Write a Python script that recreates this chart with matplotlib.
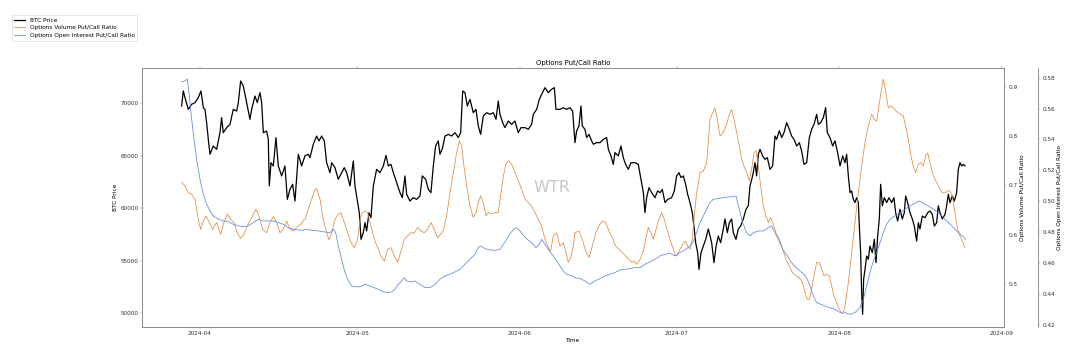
import matplotlib
matplotlib.use("Agg")
import matplotlib.pyplot as plt
import numpy as np
import pandas as pd

# x values are days after 2024-04-01
start = pd.Timestamp("2024-04-01")

btc_day = [-3.50, -3.18, -2.86, -2.23, -1.59, -0.95, -0.32, 0.19, 0.64, 0.95, 1.27, 1.59, 1.91, 2.54, 3.18, 3.82,
           4.13, 4.45, 5.09, 5.73, 6.36, 7.00, 7.32, 7.76, 8.27, 8.91, 9.54, 9.86, 10.50, 10.94, 11.45, 11.77, 12.09,
           12.72, 13.04, 13.23, 13.55, 14.00, 14.50, 14.95, 15.59, 16.22, 16.67, 17.18, 17.69, 18.13, 18.77, 19.40,
           20.04, 20.67, 20.99, 21.63, 22.26, 22.71, 23.22, 23.73, 24.17, 24.81, 25.13, 25.76, 26.40, 27.04, 27.54,
           27.99, 28.63, 29.26, 29.58, 30.09, 30.41, 30.73, 31.17, 31.49, 31.81, 32.25, 32.63, 33.08, 33.71, 34.35,
           34.99, 35.50, 35.94, 36.45, 36.90, 37.53, 38.17, 38.61, 39.12, 39.44, 40.08, 40.71, 41.35, 41.98, 42.43,
           43.07, 43.58, 44.08, 44.53, 44.97, 45.48,
           45.80, 46.31, 46.76, 47.39, 48.03, 48.66, 49.30, 49.75, 50.13, 50.57, 51.02, 51.53, 52.16, 52.67, 53.12,
           53.56, 54.07, 54.71, 55.34, 55.98, 56.49, 56.93, 57.25, 57.76, 58.21, 58.84, 59.48, 60.11, 60.75, 61.26,
           62.02, 62.66, 63.29, 63.61, 64.25, 64.76, 65.20, 65.84, 66.48, 67.11, 67.62, 67.94, 68.70, 69.34, 69.97,
           70.61, 71.12,
           71.56, 71.88, 72.33, 72.71, 72.96, 73.47, 73.79, 74.24, 74.75, 75.06, 75.70, 76.34, 76.97, 77.61, 77.93,
           78.44, 78.88, 79.20, 79.83, 80.34, 80.79, 81.23, 81.74, 82.25, 83.02, 83.65, 84.16, 84.61, 84.92, 85.24,
           85.69, 86.20, 86.83, 87.34, 87.79, 88.23, 88.74, 89.25, 90.01, 90.52, 90.97, 91.41, 91.79, 92.24, 92.68,
           93.07, 93.51, 93.96, 94.34, 94.59, 94.98, 95.23, 95.61, 96.06, 96.51, 97.01,
           97.33, 97.65, 98.09, 98.47, 98.92, 99.36, 99.87, 100.19, 100.64, 101.02, 101.46, 101.78, 102.29, 102.74,
           103.18, 103.69, 104.20, 104.64, 104.96, 105.47, 105.92, 106.23, 106.55, 106.87, 107.38, 107.82, 108.27,
           108.78, 109.29, 109.73, 110.05, 110.56, 111.01, 111.45, 111.96, 112.47, 112.91, 113.36, 113.87, 114.38,
           114.82, 115.27, 115.78, 116.29, 116.73, 117.18, 117.69, 118.00, 118.45, 118.96, 119.40, 119.72, 120.23,
           120.74, 121.18, 121.69, 122.14, 122.65,
           123.09, 123.41, 123.73, 124.05, 124.36, 124.68, 125.00, 125.32, 125.64, 125.83, 126.08, 126.27, 126.46,
           126.65, 126.91, 127.23, 127.54, 127.86, 128.31, 128.69, 129.01, 129.33, 129.64, 129.90, 130.22, 130.60,
           131.04, 131.49, 132.00, 132.44, 132.76, 133.14, 133.59, 134.03, 134.41, 134.67, 135.05, 135.50, 135.94,
           136.32, 136.77, 137.09, 137.40, 137.85, 138.36, 138.87, 139.31, 139.76, 140.14, 140.59, 140.90, 141.22,
           141.67, 142.18, 142.49, 142.81, 143.13, 143.58, 143.96, 144.40, 144.72, 145.04, 145.36, 145.67, 145.99]
btc_price = [69740, 71170, 70540, 69420, 69900, 70060, 70540, 71170, 69580, 69420, 68150, 66570, 65140, 65930, 65610,
             67200, 68630, 67200, 67680, 67990, 69420, 69260, 70060, 72120, 71650, 70060, 68470, 69420, 70690, 70060,
             71010, 70060, 67200, 67360, 66570, 62120, 64340, 64030, 66730, 64030, 63080, 64030, 60850, 61800, 62280,
             60690, 65140, 64030,
             65000, 65140, 64820, 66100, 66880, 66410, 66880, 66410, 64340, 63390, 64340, 63870, 62760, 63390, 63870,
             63390, 62120, 64500, 62120, 60540, 59570, 57040, 57680, 58630, 57840, 59570, 59100, 62120, 63710, 63390,
             64030, 65040, 64030, 64180, 63390, 62440, 61490, 61010, 63080, 61330, 60690, 61010, 60850, 61170, 63080,
             62760, 61800, 61490, 64030, 65930, 66410,
             65140, 65770, 66880, 67040, 66880, 67200, 66730, 67200, 71170, 71010, 69740, 70370, 69100, 69420, 67840,
             67040, 68790, 69100, 68950, 69100, 68470, 70220, 68950, 68150, 67680, 68310, 67990, 68310, 67200, 67680,
             67680, 67520, 67990, 68950, 69420, 70370, 70850, 71490, 71010, 71330, 71490, 69420, 69420, 69580, 69420,
             69580, 69260,
             66250, 67360, 67840, 69740, 67840, 67520, 66730, 67040, 66410, 66100, 66250, 66250, 66570, 66730, 65610,
             64980, 64180, 65300, 64980, 65930, 64820, 64180, 63710, 64340, 64340, 64180, 62760, 61490, 59580, 61010,
             61960, 61490, 61010, 61650, 61490, 61800, 60540, 60850, 61010, 61650, 63080, 63390, 62920, 63080, 62280,
             61330, 60540, 59580, 57960, 56720, 55770, 54180, 55770, 56400, 57040, 58030,
             57360, 56720, 54820, 56310, 57360, 56720, 58030, 58980, 57680, 58630, 58980, 57680, 57040, 58030, 58310,
             58980, 59900, 60240, 62120, 63080, 64340, 63080, 65140, 65610, 64980, 64660, 64820, 63710, 64030, 66880,
             66570, 67390, 66730, 67200, 68150, 67520, 66880, 66570, 65930, 66250, 65460, 64180, 64340, 66730, 67520,
             67990, 68950, 67990, 68150, 68630, 69580, 67200, 66730, 65930, 66410, 65300, 64030, 64980,
             64340, 65140, 63080, 61490, 61650, 60850, 60540, 61010, 60540, 58310, 55770, 51970, 49900, 53230, 54180,
             55450, 55140, 56400, 55770, 57040, 54820, 57360, 58980, 62280, 60240, 61010, 60540, 61010, 60540, 61010,
             59580, 58790, 59900, 58980, 59580, 61170, 60540, 59580, 58980, 58310, 56880, 58630, 58030, 59260, 59100,
             59580, 59740, 59420, 58310, 58630, 60240, 59580, 58980, 59420, 60240, 61330, 60540, 61170, 60690, 61490,
             63710, 64340, 64030, 64180, 64030]

vol_day = [-3.50, -2.86, -2.23, -1.59, -0.95, -0.32, 0.13, 0.64, 1.15, 1.78, 2.42, 3.18, 3.94, 4.58, 5.22, 5.85, 6.49,
           7.12, 7.76, 8.40, 9.03, 9.86, 10.69, 11.32, 11.96, 12.72, 13.36, 14.00, 14.63, 15.27, 15.90, 16.54, 17.18,
           17.81, 18.45, 19.21, 19.85,
           20.04, 20.67, 21.31, 21.82, 22.26, 22.90, 23.54, 24.17, 24.62, 25.13, 25.76, 26.40, 26.91, 27.54, 28.18,
           28.82, 29.45, 30.09, 30.53, 30.98, 31.49, 31.98, 32.63, 33.27, 33.91, 34.54, 35.18, 35.81, 36.45, 37.09,
           37.72, 38.36, 38.99, 39.63, 40.27, 40.90, 41.54, 42.17, 42.81, 43.45, 44.08, 44.72, 45.35,
           46.44, 47.07, 47.71, 48.35, 48.98, 49.49, 49.94, 50.38, 50.89, 51.53, 52.16, 52.67, 53.12, 53.56, 54.07,
           54.58, 55.03, 55.66, 56.30, 56.93, 57.38, 57.89, 58.40, 58.84, 59.48, 60.11, 60.75, 61.39, 62.02, 62.66,
           63.30, 63.93, 64.57, 65.20, 65.84, 66.48, 66.92, 67.43, 68.07, 68.70, 69.34, 69.85, 70.29, 70.74, 71.25,
           71.57, 72.33, 72.96, 73.60, 74.24, 74.87, 75.51, 76.15, 76.78, 77.42, 78.05, 78.69, 79.33, 79.96, 80.60,
           81.23, 81.87, 82.38, 82.89, 83.33, 83.97, 84.61, 85.05, 85.56, 86.07, 86.51, 86.96, 87.47, 88.10, 88.61,
           89.12, 89.69, 90.33, 90.77, 91.28, 91.79, 92.30, 92.68, 93.07, 93.51, 93.96, 94.34, 94.78, 95.42, 96.06,
           96.69, 97.01,
           97.33, 97.84, 98.28, 98.73, 99.24, 99.87, 100.51, 101.02, 101.46, 101.91, 102.42, 102.93, 103.37, 103.82,
           104.33, 104.83, 105.28, 105.72, 106.11, 106.55, 107.00, 107.51, 108.01, 108.46, 108.91, 109.41, 109.92,
           110.56, 111.20, 111.83, 112.47, 113.10, 113.74, 114.38, 115.01, 115.46, 115.90, 116.28, 116.73, 117.17,
           117.68, 118.19, 118.64, 119.08, 119.59, 120.10, 120.55, 120.99, 121.50, 122.01, 122.45, 122.90,
           123.09, 123.73, 124.36, 125.00, 125.64, 126.27, 126.91, 127.54, 128.18, 128.69, 129.14, 129.58, 129.96,
           130.41, 130.85, 131.36, 131.87, 132.32, 132.76, 133.27, 133.78, 134.22, 134.67, 135.18, 135.69, 136.13,
           136.58, 137.09, 137.60, 138.04, 138.49, 138.87, 139.31, 139.76, 140.27, 140.78, 141.22, 141.67, 142.17,
           142.68, 143.13, 143.57, 144.08, 144.59, 145.04, 145.48, 145.99]
vol_ratio = [0.706, 0.699, 0.685, 0.682, 0.672, 0.631, 0.611, 0.628, 0.638, 0.625, 0.611, 0.625, 0.601, 0.625, 0.642,
             0.631, 0.625, 0.604, 0.593, 0.601, 0.618, 0.635, 0.652, 0.635, 0.611, 0.604, 0.625, 0.637, 0.625, 0.604,
             0.611, 0.628, 0.611, 0.608, 0.615, 0.621, 0.631,
             0.631, 0.652, 0.672, 0.689, 0.694, 0.672, 0.631, 0.604, 0.590, 0.604, 0.631, 0.642, 0.645, 0.625, 0.604,
             0.584, 0.574, 0.591, 0.631, 0.645, 0.648, 0.645, 0.618, 0.591, 0.574, 0.557, 0.547, 0.571, 0.574, 0.557,
             0.544, 0.567, 0.591, 0.598, 0.604, 0.604, 0.615, 0.608, 0.604, 0.611, 0.625, 0.611, 0.594,
             0.608, 0.638, 0.685, 0.726, 0.766, 0.790, 0.780, 0.739, 0.699, 0.658, 0.635, 0.645, 0.665, 0.679, 0.665,
             0.638, 0.645, 0.642, 0.645, 0.645, 0.679, 0.719, 0.743, 0.750, 0.743, 0.726, 0.709, 0.692, 0.672, 0.665,
             0.658, 0.645, 0.631, 0.618, 0.591, 0.574, 0.567, 0.598, 0.604, 0.577, 0.584, 0.564, 0.544, 0.554, 0.577,
             0.604, 0.608, 0.591, 0.567, 0.554, 0.577, 0.604, 0.618, 0.628, 0.625, 0.608, 0.594, 0.577, 0.571, 0.564,
             0.557, 0.550, 0.544, 0.547, 0.540, 0.550, 0.567, 0.591, 0.615, 0.604, 0.591, 0.608, 0.628, 0.645, 0.631,
             0.611, 0.591, 0.571, 0.557, 0.564, 0.574, 0.584, 0.587, 0.577, 0.571, 0.591, 0.638, 0.685, 0.726, 0.729,
             0.746, 0.787,
             0.834, 0.847, 0.857, 0.834, 0.800, 0.807, 0.824, 0.844, 0.854, 0.834, 0.807, 0.780, 0.753, 0.739, 0.726,
             0.709, 0.733, 0.766, 0.770, 0.739, 0.699, 0.658, 0.638, 0.625, 0.635, 0.621, 0.604, 0.591, 0.571, 0.550,
             0.537, 0.523, 0.517, 0.513, 0.503, 0.483, 0.469, 0.469, 0.490, 0.517, 0.544, 0.544, 0.530, 0.517, 0.520,
             0.517, 0.496, 0.476, 0.463, 0.449, 0.442, 0.446,
             0.456, 0.503, 0.564, 0.625, 0.685, 0.739, 0.787, 0.820, 0.844, 0.834, 0.830, 0.861, 0.888, 0.915, 0.891,
             0.857, 0.861, 0.857, 0.851, 0.847, 0.844, 0.841, 0.820, 0.793, 0.760, 0.739, 0.726, 0.743, 0.746, 0.739,
             0.760, 0.766, 0.746, 0.726, 0.712, 0.702, 0.692, 0.685, 0.685, 0.689, 0.689, 0.679, 0.645, 0.611, 0.598,
             0.587, 0.574]

oi_day = [-3.50, -2.86, -2.42, -2.03, -1.59, -1.14, -0.64, 0.00, 0.64, 1.27, 1.91, 2.54, 3.50, 4.45, 5.41, 6.36, 7.32,
          8.27, 9.22, 10.18, 11.13, 12.09, 13.04, 14.00, 14.95, 15.90, 16.86, 17.81, 18.77, 19.72,
          20.04, 21.31, 22.58, 23.85, 24.81, 25.45, 25.89, 26.40, 27.04, 27.67, 28.31, 28.94, 29.58, 30.22, 30.85,
          31.49, 32.12, 32.76, 33.72, 34.67, 35.62, 36.58, 37.21, 37.85, 38.49, 38.99, 39.44, 40.27, 41.03, 41.98,
          42.94, 43.89, 44.85, 45.48,
          45.80, 46.76, 47.71, 48.66, 49.62, 50.57, 51.53, 52.48, 53.12, 53.56, 54.39, 55.34, 56.30, 57.25, 57.89,
          58.52, 59.29, 59.92, 60.43, 61.07, 61.71, 62.47, 63.30, 64.12, 64.76, 65.20, 65.84, 66.67, 67.43, 68.07,
          68.70, 69.34, 69.97, 70.93,
          71.57, 72.52, 73.47, 74.43, 75.38, 76.34, 77.29, 78.24, 79.20, 80.15, 81.11, 82.06, 83.01, 83.97, 84.92,
          85.88, 86.83, 87.79, 88.74, 89.69, 90.65, 91.60, 92.56, 93.51, 94.15, 94.78, 95.42, 96.06, 96.69,
          97.33, 97.96, 98.92, 99.87, 100.83, 101.78, 102.29, 102.93, 103.56, 104.33, 104.96, 105.60, 106.55, 107.51,
          108.46, 109.10, 109.73, 110.37, 111.20, 112.09, 112.91, 113.74, 114.50, 115.27, 115.90, 116.41, 117.05,
          117.68, 118.45, 119.27, 120.10, 120.86, 121.63, 122.45,
          123.09, 124.05, 125.00, 125.95, 126.59, 127.23, 127.86, 128.50, 129.14, 129.77, 130.41, 131.04, 131.68,
          132.63, 133.59, 134.54, 135.50, 136.45, 137.21, 138.04, 138.99, 139.95, 140.90, 141.86, 142.81, 143.77,
          144.72, 145.48, 146.12]
oi_ratio = [0.5772, 0.5779, 0.5790, 0.5682, 0.5531, 0.5401, 0.5272, 0.5143, 0.5046, 0.4981, 0.4938, 0.4905, 0.4884,
            0.4873, 0.4869, 0.4851, 0.4841, 0.4836, 0.4841, 0.4862, 0.4884, 0.4873, 0.4873, 0.4873, 0.4862, 0.4851,
            0.4830, 0.4819, 0.4815, 0.4813,
            0.4819, 0.4813, 0.4808, 0.4802, 0.4797, 0.4819, 0.4797, 0.4711, 0.4625, 0.4539, 0.4485, 0.4452, 0.4448,
            0.4446, 0.4452, 0.4463, 0.4457, 0.4448, 0.4435, 0.4420, 0.4409, 0.4414, 0.4431, 0.4463, 0.4485, 0.4506,
            0.4485, 0.4478, 0.4485, 0.4463, 0.4442, 0.4442, 0.4463, 0.4485,
            0.4496, 0.4517, 0.4528, 0.4543, 0.4560, 0.4593, 0.4625, 0.4657, 0.4700, 0.4711, 0.4694, 0.4685, 0.4683,
            0.4690, 0.4722, 0.4754, 0.4797, 0.4819, 0.4830, 0.4808, 0.4780, 0.4754, 0.4733, 0.4700, 0.4722, 0.4754,
            0.4722, 0.4679, 0.4647, 0.4614, 0.4582, 0.4549, 0.4528, 0.4517,
            0.4506, 0.4500, 0.4485, 0.4463, 0.4485, 0.4500, 0.4517, 0.4528, 0.4539, 0.4556, 0.4560, 0.4565, 0.4571,
            0.4571, 0.4593, 0.4608, 0.4625, 0.4647, 0.4657, 0.4664, 0.4647, 0.4668, 0.4685, 0.4711, 0.4740, 0.4800,
            0.4860, 0.4905, 0.4950,
            0.4992, 0.5013, 0.5018, 0.5024, 0.5028, 0.5030, 0.5035, 0.4949, 0.4862, 0.4797, 0.4776, 0.4797, 0.4808,
            0.4808, 0.4830, 0.4841, 0.4797, 0.4754, 0.4690, 0.4647, 0.4603, 0.4571, 0.4549, 0.4528, 0.4496, 0.4452,
            0.4388, 0.4345, 0.4334, 0.4323, 0.4312, 0.4306, 0.4291, 0.4276,
            0.4280, 0.4269, 0.4280, 0.4312, 0.4366, 0.4452, 0.4539, 0.4614, 0.4668, 0.4733, 0.4797, 0.4851, 0.4884,
            0.4905, 0.4927, 0.4949, 0.4970, 0.4987, 0.5002, 0.4987, 0.4970, 0.4949, 0.4927, 0.4895, 0.4862, 0.4830,
            0.4797, 0.4776, 0.4754]


def to_dates(days):
    return start + pd.to_timedelta(np.array(days), unit="D")


spine_col = "#8c8c8c"

fig = plt.figure(figsize=(1084 / 41, 355 / 41), dpi=41)
ax = fig.add_axes([0.1313, 0.0797, 0.7952, 0.7279])
ax2 = ax.twinx()
ax3 = ax.twinx()
ax3.spines["right"].set_position(("axes", 1.0394))

l1, = ax.plot(to_dates(btc_day), btc_price, color="black", lw=2.2, label="BTC Price")
l2, = ax2.plot(to_dates(vol_day), vol_ratio, color="#e0883a", lw=1.3, label="Options Volume Put/Call Ratio")
l3, = ax3.plot(to_dates(oi_day), oi_ratio, color="#5b82e8", lw=1.3, label="Options Open Interest Put/Call Ratio")

ax.set_xlim(pd.Timestamp("2024-03-21"), pd.Timestamp("2024-09-01 12:00"))
ax.set_ylim(48720, 73330)
ax2.set_ylim(0.414, 0.937)
ax3.set_ylim(0.4189, 0.586)
ax2.set_yticks([0.5, 0.6, 0.7, 0.8, 0.9])
ax3.set_yticks(np.arange(0.42, 0.581, 0.02))

ax.set_title("Options Put/Call Ratio", fontsize=12)
ax.set_xlabel("Time")
ax.set_ylabel("BTC Price")
ax2.set_ylabel("Options Volume Put/Call Ratio")
ax3.set_ylabel("Options Open Interest Put/Call Ratio")

for a in (ax, ax2, ax3):
    for s in a.spines.values():
        s.set_color(spine_col)
        s.set_linewidth(1.6)
    a.tick_params(colors=spine_col, labelcolor="#333333", labelsize=10)
ax.tick_params(axis="x", top=True)

ax.text(0.475, 0.54, "WTR", transform=ax.transAxes, fontsize=28, color="#b0b0b0",
        alpha=0.7, ha="center", va="center")

fig.legend(handles=[l1, l2, l3], loc="upper left", bbox_to_anchor=(0.008, 0.965), fontsize=10)

fig.savefig("out.png", dpi=41)
